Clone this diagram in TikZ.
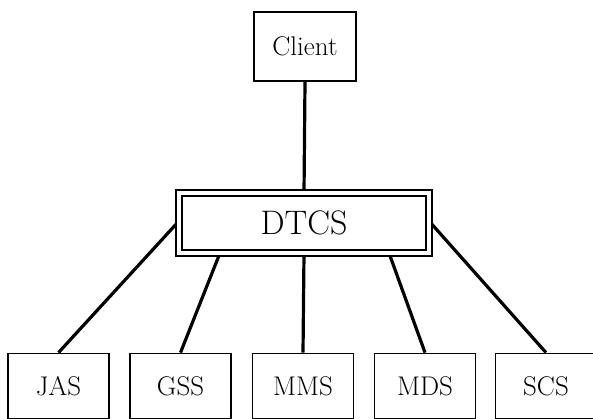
\documentclass[tikz,border=0pt]{standalone}
\usetikzlibrary{backgrounds}
\begin{document}
\begin{tikzpicture}[x=1pt,y=-1pt,
  box/.style={draw, line width=1.8pt, fill=white, inner sep=0pt,
    minimum width=101pt, minimum height=65pt,
    font=\fontsize{27}{32}\selectfont},
  hub/.style={draw, double, double distance=4pt, line width=1.9pt,
    fill=white, inner sep=0pt, outer sep=0pt,
    minimum width=250pt, minimum height=60pt,
    font=\fontsize{34}{40}\selectfont},
  link/.style={line width=3.2pt}]
\useasboundingbox (0,0) rectangle (593,418);
\clip (0,0) rectangle (593,418);

% top client and central service
\node[box, minimum width=102pt, minimum height=69pt] (client) at (305,46.5) {Client};
\node[hub] (dtcs) at (304,223) {DTCS};

% subordinate services, running off the lower edge
\node[box] (jas) at (58.5,386) {JAS};
\node[box] (gss) at (180.5,386) {GSS};
\node[box] (mms) at (303,386) {MMS};
\node[box] (mds) at (425,386) {MDS};
\node[box] (scs) at (546,386) {SCS};

% connectors
\begin{scope}[on background layer]
  \draw[link] (client.south) -- (dtcs.north);
  \draw[link] ([yshift=2pt]dtcs.west) -- (jas.north);
  \draw[link] ([xshift=-84pt]dtcs.south) -- (gss.north);
  \draw[link] (dtcs.south) -- (mms.north);
  \draw[link] ([xshift=85pt]dtcs.south) -- (mds.north);
  \draw[link] ([yshift=2pt]dtcs.east) -- (scs.north);
\end{scope}
\end{tikzpicture}
\end{document}
